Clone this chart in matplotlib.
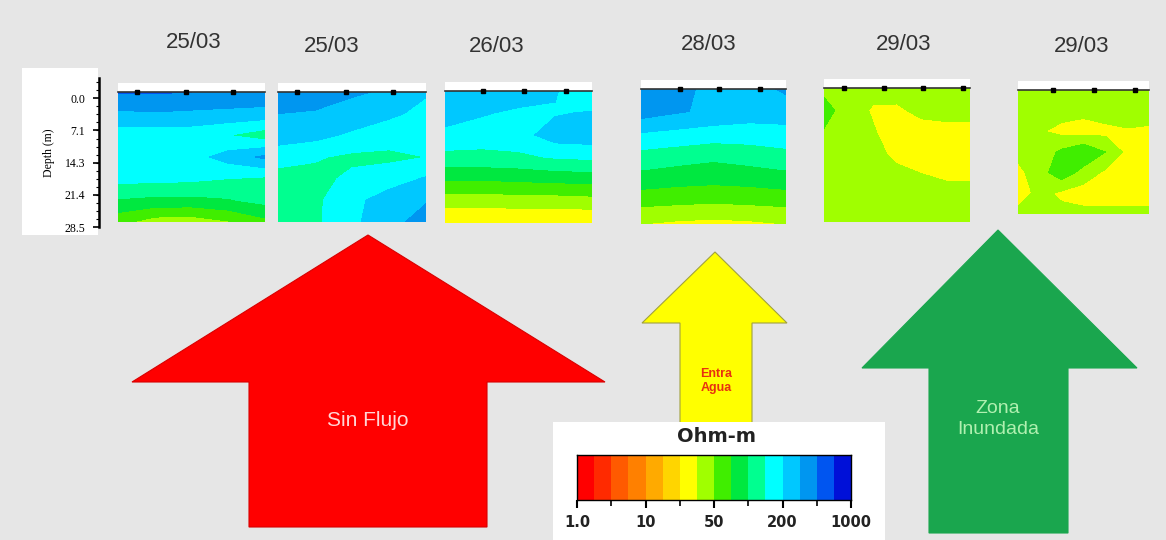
import numpy as np
import matplotlib
matplotlib.use("Agg")
import matplotlib.pyplot as plt
from matplotlib.colors import ListedColormap, BoundaryNorm
from matplotlib.patches import Polygon, Rectangle
from matplotlib.ticker import MultipleLocator

W, H = 1166, 540
BG = "#e6e6e6"

# ---- data ----
dates = ["25/03", "25/03", "26/03", "28/03", "29/03", "29/03"]
depth_ticks = [0.0, 7.1, 14.3, 21.4, 28.5]
depth_max = 28.5
cbar_labels = ["1.0", "10", "50", "200", "1000"]
class_colors = ["#ff0000", "#ff2a00", "#ff5a00", "#ff8000", "#ffaa00", "#ffd500",
                "#ffff00", "#a0ff00", "#40ee00", "#00e840", "#00ff90", "#00ffff",
                "#00c8ff", "#0096f0", "#0055f0", "#0010d8"]

# resistivity class (colour-bin index) at grid nodes, rows = depth, cols = distance
res_25a = np.array([
    [13.6, 13.6, 13.5, 13.4, 13.3],
    [12.3, 12.4, 12.3, 12.2, 12.1],
    [10.9, 10.9, 10.9, 10.5, 9.9],
    [11.0, 11.0, 11.1, 11.9, 12.7],
    [10.8, 10.8, 10.7, 10.5, 10.3],
    [9.4, 9.2, 9.2, 9.4, 9.8],
    [7.8, 7.0, 6.9, 7.4, 8.2],
])
res_25b = np.array([
    [13.2, 13.0, 12.6, 12.4, 11.6],
    [12.5, 12.4, 12.2, 11.7, 11.2],
    [12.0, 11.8, 11.3, 10.9, 10.7],
    [10.9, 10.6, 10.3, 10.3, 10.5],
    [10.1, 10.2, 10.7, 11.0, 11.6],
    [10.1, 10.3, 11.2, 12.0, 12.4],
    [10.1, 10.3, 11.3, 12.1, 13.0],
])
res_26 = np.array([
    [12.3, 12.2, 12.1, 11.6, 10.4],
    [12.0, 11.6, 11.3, 11.4, 11.6],
    [11.2, 11.0, 11.1, 12.0, 12.1],
    [10.2, 10.2, 10.3, 10.6, 10.7],
    [8.6, 8.6, 8.7, 8.8, 8.9],
    [6.9, 6.9, 7.0, 7.0, 7.1],
    [5.5, 5.5, 5.5, 5.5, 5.5],
])
res_28 = np.array([
    [12.6, 12.8, 12.2, 12.0, 12.7],
    [13.0, 12.6, 12.3, 12.0, 11.9],
    [11.4, 11.2, 11.0, 11.0, 11.2],
    [10.1, 9.9, 9.7, 9.9, 10.1],
    [9.1, 8.9, 8.8, 8.9, 9.1],
    [7.8, 7.7, 7.6, 7.7, 7.8],
    [6.5, 6.3, 6.2, 6.3, 6.5],
])
res_29a = np.array([
    [7.2, 7.1, 6.8, 7.0, 7.2, 7.2, 7.2],
    [7.9, 7.0, 6.4, 6.3, 6.8, 7.0, 7.0],
    [7.4, 7.0, 6.6, 6.0, 6.0, 6.0, 6.0],
    [7.0, 7.0, 6.8, 6.3, 6.0, 6.0, 6.0],
    [7.0, 7.0, 7.0, 6.8, 6.6, 6.4, 6.4],
    [7.0, 7.0, 7.0, 7.0, 7.0, 7.0, 7.0],
    [7.0, 7.0, 7.0, 7.0, 7.0, 7.0, 7.0],
])
res_29b = np.array([
    [7.2, 7.2, 7.2, 7.2, 7.2, 7.2, 7.2],
    [7.0, 7.0, 6.9, 6.8, 7.0, 7.0, 7.0],
    [7.0, 6.6, 6.2, 6.0, 6.2, 6.4, 6.3],
    [6.8, 6.9, 7.7, 8.4, 7.5, 6.2, 6.0],
    [6.2, 7.1, 8.1, 7.1, 6.3, 6.0, 6.0],
    [6.0, 6.8, 6.3, 6.0, 6.0, 6.0, 6.0],
    [6.8, 6.8, 6.8, 6.8, 6.8, 6.8, 6.8],
])
panels = [res_25a, res_25b, res_26, res_28, res_29a, res_29b]

# electrode positions along each profile (fraction of profile length)
electrodes = [
    [0.13, 0.46, 0.78],
    [0.13, 0.46, 0.78],
    [0.26, 0.54, 0.82],
    [0.27, 0.54, 0.82],
    [0.14, 0.41, 0.68, 0.95],
    [0.27, 0.58, 0.89],
]

# ---- layout (pixels: left, top, right, bottom) ----
panel_boxes = [(118, 92, 265, 222), (278, 92, 426, 222), (445, 91, 592, 223),
               (641, 89, 786, 224), (824, 88, 970, 222), (1018, 90, 1149, 214)]
date_pos = [(194, 43), (332, 47), (497, 46), (709, 44), (904, 44), (1082, 47)]


def px_axes(fig, l, t, r, b, **kw):
    return fig.add_axes([l / W, 1 - b / H, (r - l) / W, (b - t) / H], **kw)


def up_arrow(ax, tip, head_y, head_lr, shaft_lr, bottom, fc, ec):
    tx, ty = tip
    pts = [(tx, ty), (head_lr[1], head_y), (shaft_lr[1], head_y),
           (shaft_lr[1], bottom), (shaft_lr[0], bottom), (shaft_lr[0], head_y),
           (head_lr[0], head_y)]
    ax.add_patch(Polygon(pts, closed=True, fc=fc, ec=ec, lw=0.8))


fig = plt.figure(figsize=(W / 100, H / 100), dpi=100, facecolor=BG)
bg = fig.add_axes([0, 0, 1, 1], zorder=0)
bg.set_xlim(0, W)
bg.set_ylim(H, 0)
bg.axis("off")

cmap = ListedColormap(class_colors)
levels = np.arange(-0.5, len(class_colors), 1.0)
norm = BoundaryNorm(levels, cmap.N)

# white box behind the depth axis
bg.add_patch(Rectangle((22, 68), 76, 167, fc="white", ec="none"))

for grid, box, elec, date, dp in zip(panels, panel_boxes, electrodes, dates, date_pos):
    l, t, r, b = box
    bg.add_patch(Rectangle((l, t - 9), r - l, 9, fc="white", ec="none"))
    ax = px_axes(fig, l, t, r, b, zorder=2)
    ny, nx = grid.shape
    xs = np.linspace(0, 1, nx)
    zs = np.linspace(0, depth_max, ny)
    ax.contourf(xs, zs, grid, levels=levels, cmap=cmap, norm=norm)
    ax.set_xlim(0, 1)
    ax.set_ylim(depth_max, 0)
    ax.axis("off")
    ax.axhline(0, color="#333333", lw=1.2, clip_on=False)
    ax.plot(elec, [0] * len(elec), "s", color="black", ms=3.5, clip_on=False)
    bg.text(dp[0], dp[1], date, ha="center", va="center", fontsize=16,
            color="#333333", family="Liberation Sans")

# depth axis
ax_d = px_axes(fig, 99, 78, 100, 227, zorder=2)
ax_d.set_facecolor("none")
ax_d.set_ylim(depth_max, -4.5)
for s in ["top", "right", "bottom"]:
    ax_d.spines[s].set_visible(False)
ax_d.spines["left"].set_linewidth(1.8)
ax_d.set_xticks([])
ax_d.set_yticks(depth_ticks)
ax_d.set_yticklabels([f"{v:.1f}" for v in depth_ticks], family="Liberation Serif",
                     fontsize=8.5)
ax_d.yaxis.set_minor_locator(MultipleLocator(depth_max / 16))
ax_d.tick_params(axis="y", which="major", length=4, width=1.2, pad=6)
ax_d.tick_params(axis="y", which="minor", length=2, width=0.8)
ax_d.set_ylabel("Depth (m)", family="Liberation Serif", fontsize=8.5, labelpad=7)

# arrows
up_arrow(bg, (368, 235), 382, (132, 605), (249, 487), 527, "#ff0000", "#d80000")
bg.text(368, 420, "Sin Flujo", ha="center", va="center", fontsize=15,
        color="#ffd6d6", family="Liberation Sans")

up_arrow(bg, (715, 252), 323, (642, 787), (680, 752), 430, "#ffff00", "#a0a040")
bg.text(716, 381, "Entra\nAgua", ha="center", va="center", fontsize=9,
        fontweight="bold", color="#e83010", linespacing=1.2, family="Liberation Sans")

up_arrow(bg, (998, 230), 368, (862, 1137), (929, 1068), 533, "#1aa64e", "#1aa64e")
bg.text(998, 419, "Zona\nInundada", ha="center", va="center", fontsize=14,
        color="#b0f0b0", linespacing=1.25, family="Liberation Sans")

# colour scale
bg.add_patch(Rectangle((553, 422), 332, 118, fc="white", ec="none", zorder=5))
bg.text(716, 436, "Ohm-m", ha="center", va="center", fontsize=14, fontweight="bold",
        color="#222222", zorder=6)
cax = px_axes(fig, 577, 455, 851, 500, zorder=6)
ncls = len(class_colors)
cax.pcolormesh(np.arange(ncls + 1), [0, 1], np.arange(ncls)[None, :], cmap=cmap, norm=norm)
cax.set_xlim(0, ncls)
cax.set_yticks([])
cax.set_xticks(np.linspace(0, ncls, len(cbar_labels)))
cax.set_xticklabels(cbar_labels, fontsize=10.5, fontweight="bold", color="#222222")
cax.set_xticks(np.arange(2, ncls, 4), minor=True)
cax.tick_params(axis="x", which="major", length=6, width=1.5, pad=5)
cax.tick_params(axis="x", which="minor", length=4, width=1.2)
for s in cax.spines.values():
    s.set_linewidth(1.0)

fig.savefig("out.png", dpi=100, facecolor=BG)
